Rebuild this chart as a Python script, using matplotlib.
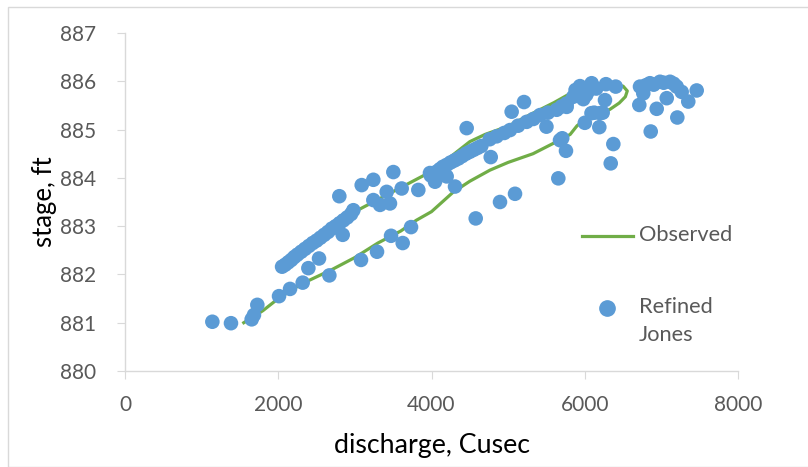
import matplotlib.pyplot as plt
from matplotlib.patches import Rectangle
from matplotlib.lines import Line2D

# observed loop rating curve: rising limb then falling limb
obs_q = [1550, 1800, 2000, 2300, 2700, 3000, 3300, 3600, 3800, 4000, 4280,
         4500, 4763, 5000, 5325, 5634, 5810, 5900, 6000, 6150, 6330, 6450,
         6530, 6555, 6500, 6350, 6100, 5900, 5780, 5600, 5300, 5000, 4700,
         4500, 4300, 4100, 3900, 3600, 3300, 3000, 2800, 2500, 2300, 2200]
obs_h = [881.0, 881.25, 881.5, 881.8, 882.1, 882.35, 882.65, 882.9, 883.12,
         883.3, 883.7, 883.93, 884.16, 884.32, 884.5, 884.75, 884.9, 885.08,
         885.2, 885.3, 885.42, 885.55, 885.68, 885.8, 885.9, 885.93, 885.92,
         885.86, 885.72, 885.56, 885.32, 885.07, 884.9, 884.75, 884.5,
         884.25, 884.05, 883.8, 883.55, 883.3, 883.05, 882.7, 882.45, 882.25]

# refined Jones method estimates
jones_q = [1140, 1383, 1653, 1683, 1727, 2010, 2154, 2319, 2667, 2393, 2532,
           3080, 3289, 3472, 3624, 3733, 2841, 2797, 3089, 3241, 3502, 3611,
           3828, 3241, 3328, 3458, 3415, 4459, 4577, 4773, 4894, 3980, 4046,
           4198, 4307, 5207, 5046, 5090, 5655, 5755, 5706, 6001, 6190, 6339,
           6373, 5500, 6264, 6088, 6199, 7461, 7351, 7208, 6861, 6939, 6712,
           7070, 6721, 6851, 6982, 7113, 7200, 7265, 6764, 6123, 6234, 6404,
           6277, 6090, 5938, 5916, 5981, 5764, 5677, 5851, 6045, 6150, 6020,
           5880, 7030, 7160, 6900, 6800,
           # falling-limb band
           2050, 2090, 2130, 2170, 2210, 2250, 2300, 2350, 2400, 2450, 2500,
           2550, 2600, 2650, 2700, 2750, 2800, 2850, 2900, 2950, 2980,
           3990, 4030, 4070, 4110, 4150, 4200, 4250, 4300, 4350, 4400, 4450,
           4500, 4550, 4600, 4650, 4760, 4850, 4950, 5025, 5130, 5242, 5330,
           5416, 5520, 5634, 5700, 5764]
jones_h = [881.02, 880.99, 881.07, 881.16, 881.37, 881.55, 881.7, 881.83,
           881.98, 882.13, 882.33, 882.3, 882.47, 882.8, 882.65, 882.98,
           882.82, 883.62, 883.85, 883.96, 884.12, 883.78, 883.75, 883.54,
           883.44, 883.47, 883.71, 885.03, 883.16, 884.43, 883.5, 884.1,
           883.92, 884.03, 883.82, 885.57, 885.37, 883.67, 883.99, 884.56,
           884.82, 885.14, 885.05, 884.3, 884.7, 885.06, 885.61, 885.34,
           885.34, 885.81, 885.58, 885.25, 884.96, 885.43, 885.51, 885.65,
           885.89, 885.96, 885.99, 885.99, 885.89, 885.78, 885.75, 885.35,
           885.35, 885.89, 885.94, 885.96, 885.9, 885.75, 885.63, 885.47,
           884.78, 885.68, 885.8, 885.85, 885.72, 885.82, 885.97, 885.95,
           885.93, 885.92,
           882.16, 882.2, 882.25, 882.3, 882.36, 882.41, 882.47, 882.53,
           882.59, 882.65, 882.7, 882.76, 882.82, 882.88, 882.95, 883.0,
           883.06, 883.12, 883.18, 883.25, 883.33,
           884.05, 884.08, 884.13, 884.18, 884.23, 884.27, 884.32, 884.36,
           884.4, 884.45, 884.5, 884.54, 884.58, 884.62, 884.66, 884.8,
           884.86, 884.93, 884.99, 885.08, 885.16, 885.22, 885.3, 885.35,
           885.41, 885.48, 885.54]

x_ticks = [0, 2000, 4000, 6000, 8000]
y_ticks = [880, 881, 882, 883, 884, 885, 886, 887]

GREEN = "#70AD47"
BLUE = "#5B9BD5"
GREY = "#595959"
SPINE = "#D9D9D9"
BODY = ["Lato", "DejaVu Sans"]

fig = plt.figure(figsize=(8.08, 4.67), dpi=100)
fig.patches.append(Rectangle((8 / 808, 0), 1, 1 - 7 / 467, transform=fig.transFigure,
                             fill=False, edgecolor="#D9D9D9", linewidth=1))
ax = fig.add_axes([125 / 808, 1 - 371 / 467, 613 / 808, 338 / 467])

ax.plot(obs_q, obs_h, color=GREEN, linewidth=2.3, zorder=2)
ax.scatter(jones_q, jones_h, s=110, color=BLUE, edgecolors="none", zorder=3)

ax.set_xlim(0, 8000)
ax.set_ylim(880, 887)
ax.set_xticks(x_ticks)
ax.set_yticks(y_ticks)
ax.set_xticklabels([str(v) for v in x_ticks], family=BODY, fontsize=15, color=GREY)
ax.set_yticklabels([str(v) for v in y_ticks], family=BODY, fontsize=15, color=GREY)
ax.tick_params(axis="both", direction="out", length=6, color=SPINE)
ax.tick_params(axis="x", pad=11)
ax.tick_params(axis="y", pad=15)

for side in ("top", "right"):
    ax.spines[side].set_visible(False)
for side in ("left", "bottom"):
    ax.spines[side].set_color(SPINE)
    ax.spines[side].set_linewidth(1)

ax.set_xlabel("discharge, Cusec", family=BODY, fontsize=19.3, color="black", labelpad=13)
ax.set_ylabel("stage, ft", family=BODY, fontsize=18.5, color="black", labelpad=2)

# legend drawn inside the plot area
fig.add_artist(Line2D([582 / 808, 633 / 808], [1 - 236 / 467] * 2,
                      transform=fig.transFigure, color=GREEN, linewidth=2.3))
fig.text(639 / 808, 1 - 235 / 467, "Observed", family=BODY, fontsize=15.7,
         color=GREY, va="center", ha="left")
fig.add_artist(Line2D([607 / 808], [1 - 308 / 467], transform=fig.transFigure,
                      marker="o", markersize=11, color=BLUE, linestyle="none"))
fig.text(639 / 808, 1 - 307 / 467, "Refined", family=BODY, fontsize=15.7,
         color=GREY, va="center", ha="left")
fig.text(639 / 808, 1 - 335 / 467, "Jones", family=BODY, fontsize=15.7,
         color=GREY, va="center", ha="left")

fig.savefig("out.png", dpi=100)
